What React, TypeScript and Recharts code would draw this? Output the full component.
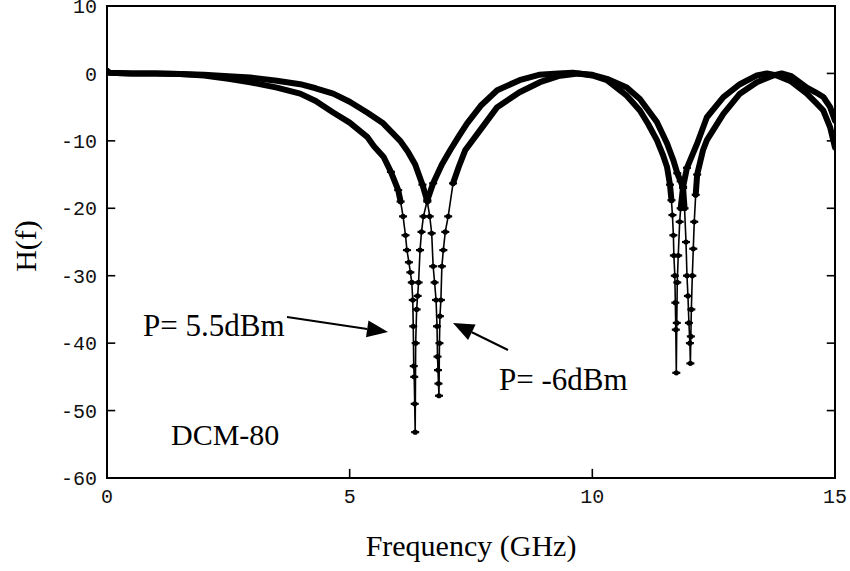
import React from 'react';
import { LineChart, Line, XAxis, YAxis, ReferenceArea, ReferenceLine } from 'recharts';

// P = 5.5 dBm
const freqHigh = [
  0, 0.05, 0.5, 1, 1.5, 2, 2.5, 2.95, 3.5, 3.98,
  4.3, 4.66, 5.0, 5.36, 5.5, 5.7, 5.85, 6.0, 6.05, 6.1,
  6.15, 6.18, 6.22, 6.25, 6.28, 6.3, 6.31, 6.32, 6.33, 6.34,
  6.35, 6.36, 6.38, 6.4, 6.42, 6.45, 6.48, 6.52, 6.6, 6.72,
  6.9, 7.07, 7.25, 7.42, 7.7, 8.04, 8.5, 8.9, 9.3, 9.6,
  10.0, 10.3, 10.71, 10.98, 11.15, 11.33, 11.45, 11.54, 11.6, 11.63,
  11.65, 11.67, 11.68, 11.7, 11.71, 11.72, 11.73, 11.74, 11.75, 11.77,
  11.8, 11.82, 11.87, 11.95, 12.1, 12.16, 12.36, 12.7, 13.04, 13.39,
  13.6, 13.8, 14.1, 14.42, 14.6, 14.76, 14.9, 15,
];
const hHigh = [
  0.4, 0.1, 0, 0, -0.1, -0.3, -0.8, -1.3, -2.1, -3.0,
  -4.1, -5.8, -7.3, -9.4, -10.8, -12.4, -14.6, -17.3, -19, -21.2,
  -24, -26.2, -28, -29.5, -31, -33.6, -37.5, -43.4, -45, -49,
  -53.2, -40, -35, -33, -31, -26.2, -23.5, -21.2, -18.8, -16.3,
  -13.5, -11.4, -9.3, -7.4, -4.8, -2.5, -1.0, -0.2, 0, 0.1,
  -0.3, -1.0, -3.3, -5.5, -7.5, -9.9, -12, -13.9, -16.5, -18.8,
  -21, -24, -27, -30, -34, -38, -44.4, -37, -31, -27,
  -22, -20, -16.8, -14, -11.4, -10.4, -6.5, -3.5, -1.6, -0.3,
  0, -0.3, -1.2, -3.0, -4.3, -5.5, -8, -11,
];

// P = -6 dBm
const freqLow = [
  0, 0.05, 0.5, 1, 1.5, 2, 2.5, 2.95, 3.5, 3.98,
  4.3, 4.66, 5.0, 5.36, 5.69, 6.04, 6.2, 6.35, 6.5, 6.6,
  6.65, 6.69, 6.72, 6.75, 6.78, 6.8, 6.81, 6.82, 6.83, 6.84,
  6.85, 6.86, 6.88, 6.9, 6.93, 6.97, 7.03, 7.13, 7.25, 7.38,
  7.7, 8.04, 8.5, 8.92, 9.3, 9.7, 10.0, 10.3, 10.71, 10.98,
  11.33, 11.54, 11.67, 11.75, 11.82, 11.87, 11.9, 11.93, 11.95, 11.97,
  11.99, 12.01, 12.02, 12.03, 12.04, 12.06, 12.08, 12.1, 12.13, 12.16,
  12.28, 12.36, 12.7, 13.04, 13.39, 13.73, 13.9, 14.1, 14.42, 14.6,
  14.76, 14.9, 15,
];
const hLow = [
  0.4, 0.1, 0, 0, -0.1, -0.2, -0.4, -0.6, -1.1, -1.6,
  -2.2, -3.0, -4.2, -5.8, -7.4, -10, -11.6, -13.5, -16.5, -19,
  -21.2, -23.7, -28.6, -31, -33.6, -37.5, -42, -44, -46, -47.8,
  -40, -36, -33.6, -28.6, -26.2, -23.5, -21.2, -16.3, -13.8, -11.4,
  -8.3, -5.0, -2.8, -1.3, -0.4, 0, -0.2, -0.8, -2.1, -3.8,
  -7.2, -10.4, -12.9, -14.8, -16, -17, -20, -25, -30, -33,
  -37, -40, -43, -39, -35, -30, -26, -22, -18, -15,
  -11.4, -9.9, -6, -3, -1.3, -0.3, 0, -0.4, -2.1, -2.8,
  -3.5, -5, -7,
];

const xTicks = [0, 5, 10, 15];
const yTicks = [10, 0, -10, -20, -30, -40, -50, -60];
const innerXTicks = [5, 10];
const innerYTicks = [0, -10, -20, -30, -40, -50];
const labelHigh = 'P= 5.5dBm';
const labelLow = 'P= -6dBm';
const fiberLabel = 'DCM-80';
const xTitle = 'Frequency (GHz)';
const yTitle = 'H(f)';

const X_MIN = 0;
const X_MAX = 15;
const Y_MIN = -60;
const Y_MAX = 10;
const TICK_X_LEN = 0.17; // inward tick length in GHz (≈8 px)
const TICK_Y_LEN = 1.35; // inward tick length in dB (≈9 px)

const BAND_LIMIT = -20;
const MARK_LIMIT = -14;

const build = (f: number[], v: number[]) =>
  f.map((x, i) => ({ f: x, v: v[i], band: v[i] >= BAND_LIMIT ? v[i] : null }));

const dataHigh = build(freqHigh, hHigh);
const dataLow = build(freqLow, hLow);

const Mark = (props: any) => {
  const { cx, cy, payload, index } = props;
  if (cx == null || cy == null || payload == null || payload.v > MARK_LIMIT) {
    return <g key={`e${index}`} />;
  }
  return (
    <g key={`m${index}`}>
      <circle cx={cx} cy={cy} r={2.6} fill="#000" />
      <rect x={cx - 4} y={cy - 1.1} width={8} height={2.2} fill="#000" />
    </g>
  );
};

const tickFont = { fontFamily: 'Liberation Mono, DejaVu Sans Mono, monospace', fontSize: 20, fill: '#111' };
const serif = 'Liberation Serif, Times New Roman, serif';
const empty = () => '';

const Arrow = ({ x1, y1, x2, y2 }: { x1: number; y1: number; x2: number; y2: number }) => {
  const dx = x2 - x1;
  const dy = y2 - y1;
  const len = Math.sqrt(dx * dx + dy * dy);
  const ux = dx / len;
  const uy = dy / len;
  const hl = 21;
  const hw = 8.5;
  const bx = x2 - ux * hl;
  const by = y2 - uy * hl;
  const pts = `${x2},${y2} ${bx - uy * hw},${by + ux * hw} ${bx + uy * hw},${by - ux * hw}`;
  return (
    <g>
      <line x1={x1} y1={y1} x2={bx} y2={by} stroke="#000" strokeWidth={2} />
      <polygon points={pts} fill="#000" />
    </g>
  );
};

export default function App() {
  return (
    <div style={{ position: 'absolute', left: 0, top: 0, width: 850, height: 571, background: '#fff' }}>
      <LineChart width={850} height={571} margin={{ top: 6, right: 15, bottom: 63, left: 47 }}>
        <XAxis
          xAxisId="b"
          dataKey="f"
          type="number"
          domain={[X_MIN, X_MAX]}
          ticks={xTicks}
          interval={0}
          allowDataOverflow
          axisLine={false}
          tickLine={false}
          tickSize={6}
          tickMargin={5}
          height={30}
          tick={tickFont}
        />
        <YAxis
          yAxisId="l"
          type="number"
          domain={[Y_MIN, Y_MAX]}
          ticks={yTicks}
          interval={0}
          allowDataOverflow
          axisLine={false}
          tickLine={false}
          width={60}
          tickSize={6}
          tickMargin={4}
          tick={tickFont}
        />
        <ReferenceArea
          xAxisId="b"
          yAxisId="l"
          x1={X_MIN}
          x2={X_MAX}
          y1={Y_MIN}
          y2={Y_MAX}
          fill="none"
          fillOpacity={0}
          stroke="#000"
          strokeWidth={2}
        />
        {innerYTicks.map((t) => (
          <ReferenceLine
            key={`yl${t}`}
            xAxisId="b"
            yAxisId="l"
            segment={[{ x: X_MIN, y: t }, { x: X_MIN + TICK_X_LEN, y: t }]}
            stroke="#000"
            strokeWidth={1.6}
            ifOverflow="visible"
          />
        ))}
        {innerYTicks.map((t) => (
          <ReferenceLine
            key={`yr${t}`}
            xAxisId="b"
            yAxisId="l"
            segment={[{ x: X_MAX - TICK_X_LEN, y: t }, { x: X_MAX, y: t }]}
            stroke="#000"
            strokeWidth={1.6}
            ifOverflow="visible"
          />
        ))}
        {innerXTicks.map((t) => (
          <ReferenceLine
            key={`xb${t}`}
            xAxisId="b"
            yAxisId="l"
            segment={[{ x: t, y: Y_MIN }, { x: t, y: Y_MIN + TICK_Y_LEN }]}
            stroke="#000"
            strokeWidth={1.6}
            ifOverflow="visible"
          />
        ))}
        <Line
          xAxisId="b"
          yAxisId="l"
          data={dataHigh}
          dataKey="v"
          type="linear"
          stroke="#000"
          strokeWidth={1.6}
          dot={Mark}
          activeDot={false}
          isAnimationActive={false}
          name={labelHigh}
        />
        <Line
          xAxisId="b"
          yAxisId="l"
          data={dataLow}
          dataKey="v"
          type="linear"
          stroke="#000"
          strokeWidth={1.6}
          dot={Mark}
          activeDot={false}
          isAnimationActive={false}
          name={labelLow}
        />
        <Line
          xAxisId="b"
          yAxisId="l"
          data={dataHigh}
          dataKey="band"
          type="linear"
          stroke="#000"
          strokeWidth={6}
          strokeLinejoin="round"
          strokeLinecap="round"
          dot={false}
          activeDot={false}
          connectNulls={false}
          isAnimationActive={false}
        />
        <Line
          xAxisId="b"
          yAxisId="l"
          data={dataLow}
          dataKey="band"
          type="linear"
          stroke="#000"
          strokeWidth={6}
          strokeLinejoin="round"
          strokeLinecap="round"
          dot={false}
          activeDot={false}
          connectNulls={false}
          isAnimationActive={false}
        />
      </LineChart>
      <svg
        width={850}
        height={571}
        style={{ position: 'absolute', left: 0, top: 0, pointerEvents: 'none' }}
      >
        <text x={143} y={336} fontFamily={serif} fontSize={31} fill="#000">{labelHigh}</text>
        <text x={499} y={390} fontFamily={serif} fontSize={31} fill="#000">{labelLow}</text>
        <text x={171} y={445} fontFamily={serif} fontSize={30} fill="#000">{fiberLabel}</text>
        <text x={471} y={556} fontFamily={serif} fontSize={30} fill="#000" textAnchor="middle">{xTitle}</text>
        <text
          transform="translate(36,246) rotate(-90)"
          fontFamily={serif}
          fontSize={30}
          fill="#000"
          textAnchor="middle"
        >
          {yTitle}
        </text>
        <Arrow x1={287} y1={317} x2={388} y2={332} />
        <Arrow x1={508} y1={350} x2={453} y2={323} />
      </svg>
    </div>
  );
}
